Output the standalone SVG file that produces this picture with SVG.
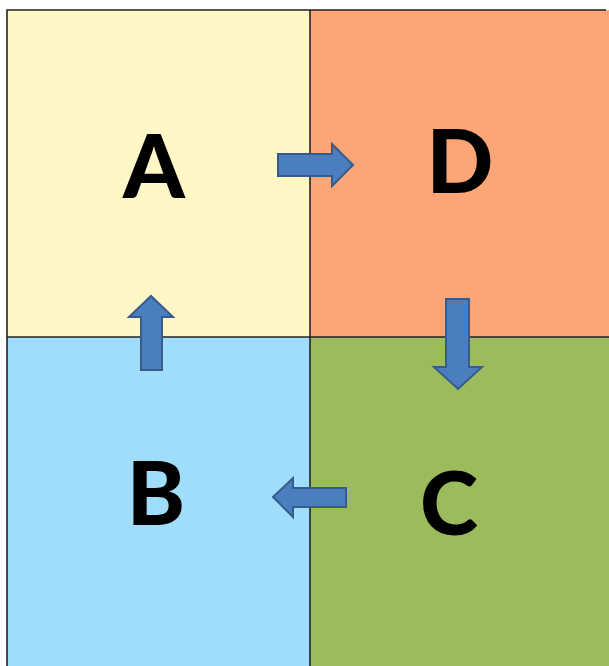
<svg xmlns="http://www.w3.org/2000/svg" width="609" height="666" viewBox="0 0 609 666">
<style>
.lbl{font-family:Lato,"Liberation Sans",Arial,sans-serif;font-weight:900;font-size:88px;fill:#000;text-anchor:middle}
.arrow{fill:#4A7EBE;stroke:#375C8C;stroke-width:2;stroke-linejoin:miter}
.line{stroke:#222;stroke-width:1.6;fill:none}
</style>
<rect width="609" height="666" fill="#ffffff"/>
<g id="A"><rect x="7" y="10" width="303" height="327" fill="#FFF8C6"/><text class="lbl" x="154" y="198">A</text></g>
<g id="D"><rect x="310" y="10" width="299" height="327" fill="#FCA678"/><text class="lbl" x="460" y="193">D</text></g>
<g id="B"><rect x="7" y="337" width="303" height="329" fill="#9FDDFA"/><text class="lbl" x="156" y="525">B</text></g>
<g id="C"><rect x="310" y="337" width="299" height="329" fill="#9BBB5C"/><text class="lbl" x="449" y="535">C</text></g>
<g id="borders">
<path class="line" d="M7,666 V10 H606"/>
<path class="line" d="M310,10 V666"/>
<path class="line" d="M7,337 H609"/>
</g>
<g id="connectors">
<polygon class="arrow" points="278,154 332,154 332,144 353,165 332,186 332,176 278,176"/>
<polygon class="arrow" points="446,299 469,299 469,367 482,367 458,389 434,367 446,367"/>
<polygon class="arrow" points="346,488 346,507 293,507 293,517 273,497 293,478 293,488"/>
<polygon class="arrow" points="141,370 162,370 162,317 173,317 151,296 129,317 141,317"/>
</g>
</svg>
